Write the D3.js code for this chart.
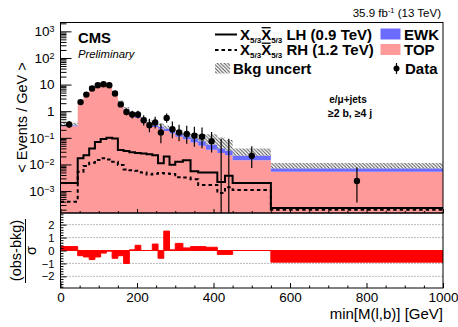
<!DOCTYPE html>
<html>
<head>
<meta charset="utf-8">
<script src="https://cdn.jsdelivr.net/npm/d3@7"></script>
<style>
body{margin:0;background:#fff;}
svg{display:block;font-family:"Liberation Sans",Arial,Helvetica,sans-serif;}
</style>
</head>
<body>
<div id="chart"></div>
<script>

/* ==========================
   Data (values per GeV)
========================== */

const binEdges = [0,45,60,75,90,105,120,135,150,165,180,195,210,225,240,255,270,285,300,320,340,360,380,410,430,450,550,1000];

const dataVals = [0.32,2.2,4.2,7.1,9.4,10.3,9.4,4.6,1.8,0.94,0.75,0.75,0.46,0.30,0.38,0.16,0.56,0.21,0.16,0.14,0.12,0.11,0.075,0,0,0.021,0.0024];

const topVals = [0.27,2.34,4.48,7.6,10.0,10.67,9.3,5.0,1.97,1.11,0.71,0.555,0.415,0.31,0.255,0.22,0.182,0.144,0.11,0.088,0.067,0.05,0.036,0.027,0.022,0.0145,0.0053];

const ewkVals = [0.02,0.06,0.12,0.2,0.3,0.33,0.3,0.2,0.13,0.09,0.07,0.065,0.055,0.05,0.045,0.04,0.038,0.036,0.03,0.027,0.028,0.025,0.019,0.013,0.011,0.0065,0.0018];

// relative upward size of the bkg uncertainty band
const bkgUnc = [0.28,0.12,0.12,0.12,0.12,0.12,0.12,0.14,0.2,0.2,0.22,0.22,0.25,0.25,0.25,0.3,0.3,0.3,0.4,0.4,0.6,0.8,1.5,1.6,1.5,0.9,0.6];

const sigLH = [0.002,0.017,0.022,0.04,0.07,0.09,0.1,0.095,0.035,0.032,0.029,0.027,0.026,0.024,0.022,0.011,0.02,0.0098,0.0125,0.0145,0.0056,0.005,0.005,0.0022,0.0038,0.002,0.00023];

const sigRH = [0.0004,0.0053,0.0087,0.0116,0.0146,0.017,0.0155,0.0126,0.0095,0.0065,0.006,0.0058,0.005,0.0042,0.0045,0.0048,0.0046,0.0044,0.0033,0.0032,0.0028,0.0017,0.0017,0.00085,0.0014,0.0011,0.0002];

const pullVals = [0.3,-0.4,-0.5,-0.7,-0.5,-0.2,-0.05,-0.6,-0.4,-1.0,0.05,0.4,0.0,0.0,0.5,-0.6,1.5,0.05,0.55,0.2,0.3,0.3,0.25,-0.3,-0.3,0.0,-0.9];

const xTickVals = [0,200,400,600,800,1000];
const xTickLabels = ["0","200","400","600","800","1000"];
const yTickVals = [1e-3,1e-2,1e-1,1,10,100,1000];
const yTickLabels = [["10","\u22123"],["10","\u22122"],["10","\u22121"],["1",""],["10",""],["10","2"],["10","3"]];
const pullTickVals = [-2,-1,0,1,2];
const pullTickLabels = ["\u22122","\u22121","0","1","2"];

/* ==========================
   Layout
========================== */

const width = 458, height = 327;
const X0 = 60.5, X1 = 443;
const UT = 22.5, UB = 213;
const LT = 213, LB = 288;

const pink = "#ff9a9a";
const blue = "#6b6bff";

const svg = d3.select("#chart")
.append("svg")
.attr("width", width)
.attr("height", height);

const defs = svg.append("defs");

const pat = defs.append("pattern")
.attr("id", "hatch")
.attr("patternUnits", "userSpaceOnUse")
.attr("width", 3.5)
.attr("height", 3.5);

pat.append("path")
.attr("d", "M-1,-1 L4.5,4.5 M-1,2.5 L1,4.5 M2.5,-1 L4.5,1")
.attr("stroke", "#444")
.attr("stroke-width", 0.9);

defs.append("clipPath").attr("id", "clipU")
.append("rect").attr("x", X0).attr("y", UT).attr("width", X1 - X0).attr("height", UB - UT);

defs.append("clipPath").attr("id", "clipL")
.append("rect").attr("x", X0).attr("y", LT).attr("width", X1 - X0).attr("height", LB - LT);

const x = d3.scaleLinear().domain([0, 1000]).range([X0, X1]);
const y = d3.scaleLog().domain([1.5e-4, 2150]).range([UB, UT]);
const yr = d3.scaleLinear().domain([-2.9, 2.9]).range([LB, LT]);

const yMin = y.domain()[0];
const yc = v => y(Math.max(v, yMin));

const bins = binEdges.slice(0, -1).map((lo, i) => ({
lo: lo,
hi: binEdges[i + 1],
w: binEdges[i + 1] - lo,
data: dataVals[i],
top: topVals[i],
ewk: ewkVals[i],
tot: topVals[i] + ewkVals[i],
unc: bkgUnc[i],
lh: sigLH[i],
rh: sigRH[i],
pull: pullVals[i]
}));

// closing point so step curves reach the last edge
const stepBins = bins.concat([Object.assign({}, bins[bins.length - 1], {lo: 1000})]);

function noText(g){
g.select(".domain").remove();
g.selectAll(".tick text").remove();
}

/* ==========================
   Upper panel
========================== */

const up = svg.append("g").attr("clip-path", "url(#clipU)");

up.append("path")
.datum(stepBins)
.attr("d", d3.area()
.x(d => x(d.lo))
.y0(UB)
.y1(d => yc(d.top))
.curve(d3.curveStepAfter))
.attr("fill", pink);

up.append("path")
.datum(stepBins)
.attr("d", d3.area()
.x(d => x(d.lo))
.y0(d => yc(d.top))
.y1(d => yc(d.tot))
.curve(d3.curveStepAfter))
.attr("fill", blue);

up.append("path")
.datum(stepBins)
.attr("d", d3.area()
.x(d => x(d.lo))
.y0(d => yc(d.tot))
.y1(d => yc(d.tot * (1 + d.unc)))
.curve(d3.curveStepAfter))
.attr("fill", "url(#hatch)");

// signal step lines
const lhLine = d3.line()
.x(d => x(d.lo))
.y(d => yc(d.lh))
.curve(d3.curveStepAfter);

const rhLine = d3.line()
.x(d => x(d.lo))
.y(d => yc(d.rh))
.curve(d3.curveStepAfter);

up.append("path")
.attr("d", lhLine(stepBins))
.attr("fill", "none")
.attr("stroke", "#000")
.attr("stroke-width", 2);

up.append("path")
.attr("d", rhLine(stepBins))
.attr("fill", "none")
.attr("stroke", "#000")
.attr("stroke-width", 2)
.attr("stroke-dasharray", "3.5,3");

// data with Poisson-like intervals
function errLo(n){ return n > 0.25 ? n - Math.sqrt(n - 0.25) : 0; }
function errHi(n){ return n + Math.sqrt(n + 0.75) + 1; }

const pts = up.append("g");

pts.selectAll("line")
.data(bins)
.enter()
.append("line")
.attr("x1", d => x((d.lo + d.hi) / 2))
.attr("x2", d => x((d.lo + d.hi) / 2))
.attr("y1", d => yc(errLo(d.data * d.w) / d.w))
.attr("y2", d => yc(errHi(d.data * d.w) / d.w))
.attr("stroke", "#000")
.attr("stroke-width", 1.2);

pts.selectAll("circle")
.data(bins.filter(d => d.data > 0))
.enter()
.append("circle")
.attr("cx", d => x((d.lo + d.hi) / 2))
.attr("cy", d => yc(d.data))
.attr("r", 3.2)
.attr("fill", "#000");

// axes upper
const yMinor = [];
for(let e = -4; e <= 3; e++){
for(let k = 2; k <= 9; k++){
const v = k * Math.pow(10, e);
if(v > yMin && v < 2150) yMinor.push(v);
}
}

svg.append("g")
.attr("transform", `translate(${X0},0)`)
.call(d3.axisLeft(y).tickValues(yMinor).tickSize(-6))
.call(noText);

const yAx = svg.append("g")
.attr("transform", `translate(${X0},0)`)
.call(d3.axisLeft(y).tickValues(yTickVals).tickSize(-11).tickPadding(6).tickFormat(""))
.call(g => g.select(".domain").remove());

yAx.selectAll(".tick text")
.attr("font-family", null)
.style("font-size", "13.5px")
.each(function(d){
const t = d3.select(this);
const lab = yTickLabels[yTickVals.indexOf(d)];
t.append("tspan").text(lab[0]);
if(lab[1] !== ""){
t.append("tspan")
.attr("dy", "-0.45em")
.style("font-size", "9px")
.text(lab[1]);
}
});

const xMinor = d3.range(0, 1001, 50).filter(v => v % 200 !== 0);

svg.append("g")
.attr("transform", `translate(0,${UB})`)
.call(d3.axisBottom(x).tickValues(xTickVals).tickSize(-4))
.call(noText);

svg.append("g")
.attr("transform", `translate(0,${UB})`)
.call(d3.axisBottom(x).tickValues(xMinor).tickSize(-2))
.call(noText);

svg.append("rect")
.attr("x", X0).attr("y", UT)
.attr("width", X1 - X0).attr("height", UB - UT)
.attr("fill", "none")
.attr("stroke", "#000")
.attr("stroke-width", 1);

/* ==========================
   Ratio panel
========================== */

const low = svg.append("g").attr("clip-path", "url(#clipL)");

low.selectAll("line.grid")
.data([-2, -1, 1, 2])
.enter()
.append("line")
.attr("class", "grid")
.attr("x1", X0).attr("x2", X1)
.attr("y1", d => yr(d)).attr("y2", d => yr(d))
.attr("stroke", "#555")
.attr("stroke-width", 0.8)
.attr("stroke-dasharray", "1,2");

low.append("path")
.datum(stepBins)
.attr("d", d3.area()
.x(d => x(d.lo))
.y0(yr(0))
.y1(d => yr(d.pull))
.curve(d3.curveStepAfter))
.attr("fill", "#ff0000")
.attr("stroke", "#ff0000")
.attr("stroke-width", 1);

const rAx = svg.append("g")
.attr("transform", `translate(${X0},0)`)
.call(d3.axisLeft(yr).tickValues(pullTickVals).tickSize(-6).tickPadding(6)
.tickFormat((d, i) => pullTickLabels[i]))
.call(g => g.select(".domain").remove());

rAx.selectAll(".tick text")
.attr("font-family", null)
.style("font-size", "11.2px");

svg.append("g")
.attr("transform", `translate(${X0},0)`)
.call(d3.axisLeft(yr)
.tickValues(d3.range(-2.8, 2.81, 0.2).filter(v => Math.abs(v - Math.round(v)) > 0.01))
.tickSize(-3))
.call(noText);

const xAx = svg.append("g")
.attr("transform", `translate(0,${LB})`)
.call(d3.axisBottom(x).tickValues(xTickVals).tickSize(-5).tickPadding(4.5)
.tickFormat((d, i) => xTickLabels[i]))
.call(g => g.select(".domain").remove());

xAx.selectAll(".tick text")
.attr("font-family", null)
.style("font-size", "13.5px");

svg.append("g")
.attr("transform", `translate(0,${LB})`)
.call(d3.axisBottom(x).tickValues(xMinor).tickSize(-2.5))
.call(noText);

svg.append("rect")
.attr("x", X0).attr("y", LT)
.attr("width", X1 - X0).attr("height", LB - LT)
.attr("fill", "none")
.attr("stroke", "#000")
.attr("stroke-width", 1);

/* ==========================
   Titles and labels
========================== */

svg.append("text")
.attr("x", X1).attr("y", 318.5)
.attr("text-anchor", "end")
.style("font-size", "15px")
.text("min[M(l,b)] [GeV]");

svg.append("text")
.attr("transform", "translate(26.5,117.5) rotate(-90)")
.attr("text-anchor", "middle")
.style("font-size", "14.5px")
.text("< Events / GeV >");

svg.append("text")
.attr("transform", "translate(20.5,250.5) rotate(-90)")
.attr("text-anchor", "middle")
.style("font-size", "14.5px")
.text("(obs-bkg)");

svg.append("line")
.attr("x1", 25.5).attr("x2", 25.5)
.attr("y1", 219).attr("y2", 283)
.attr("stroke", "#000")
.attr("stroke-width", 1);

svg.append("text")
.attr("transform", "translate(35.5,250.5) rotate(-90)")
.attr("text-anchor", "middle")
.style("font-size", "14.5px")
.text("\u03c3");

const lumi = svg.append("text")
.attr("x", 441).attr("y", 16.5)
.attr("text-anchor", "end")
.style("font-size", "11.5px");
lumi.append("tspan").text("35.9 fb");
lumi.append("tspan").attr("dy", -4).style("font-size", "7.5px").text("-1");
lumi.append("tspan").attr("dy", 4).text(" (13 TeV)");

svg.append("text")
.attr("x", 78).attr("y", 42.7)
.style("font-size", "14.8px")
.style("font-weight", "bold")
.text("CMS");

svg.append("text")
.attr("x", 78).attr("y", 57.5)
.style("font-size", "11.3px")
.style("font-style", "italic")
.text("Preliminary");

svg.append("text")
.attr("x", 348).attr("y", 103)
.attr("text-anchor", "middle")
.style("font-size", "10px")
.style("font-weight", "bold")
.text("e/\u03bc+jets");

svg.append("text")
.attr("x", 350).attr("y", 117)
.attr("text-anchor", "middle")
.style("font-size", "10.5px")
.style("font-weight", "bold")
.text("\u22652 b, \u22654 j");

/* ==========================
   Legend
========================== */

const leg = svg.append("g")
.style("font-size", "15px")
.style("font-weight", "bold");

function sigLabel(yBase, tail){
const t = leg.append("text").attr("x", 240).attr("y", yBase);
t.append("tspan").text("X");
t.append("tspan").attr("dy", 3).style("font-size", "8px").text("5/3");
t.append("tspan").attr("dy", -3).text("X");
t.append("tspan").attr("dy", 3).style("font-size", "8px").text("5/3");
t.append("tspan").attr("dy", -3).text(tail);
const box = t.node().getExtentOfChar(4);
leg.append("line")
.attr("x1", box.x + 0.5).attr("x2", box.x + box.width - 0.5)
.attr("y1", yBase - 11.8).attr("y2", yBase - 11.8)
.attr("stroke", "#000")
.attr("stroke-width", 1.3);
}

leg.append("line")
.attr("x1", 215).attr("x2", 237)
.attr("y1", 34.5).attr("y2", 34.5)
.attr("stroke", "#000").attr("stroke-width", 2);
sigLabel(39.5, " LH (0.9 TeV)");

leg.append("line")
.attr("x1", 215).attr("x2", 237)
.attr("y1", 50).attr("y2", 50)
.attr("stroke", "#000").attr("stroke-width", 2)
.attr("stroke-dasharray", "3.5,3");
sigLabel(55, " RH (1.2 TeV)");

leg.append("rect")
.attr("x", 215).attr("y", 63).attr("width", 15).attr("height", 10.5)
.attr("fill", "url(#hatch)");
leg.append("text").attr("x", 233).attr("y", 73.5).text("Bkg uncert");

leg.append("rect")
.attr("x", 380.5).attr("y", 28.5).attr("width", 20).attr("height", 11)
.attr("fill", blue);
leg.append("text").attr("x", 404).attr("y", 39.5).text("EWK");

leg.append("rect")
.attr("x", 380.5).attr("y", 44).attr("width", 20).attr("height", 11)
.attr("fill", pink);
leg.append("text").attr("x", 404).attr("y", 55).text("TOP");

leg.append("line")
.attr("x1", 396.5).attr("x2", 396.5)
.attr("y1", 63).attr("y2", 74)
.attr("stroke", "#000").attr("stroke-width", 1.2);
leg.append("circle")
.attr("cx", 396.5).attr("cy", 68.5).attr("r", 3)
.attr("fill", "#000");
leg.append("text").attr("x", 405).attr("y", 73.5).text("Data");

</script>
</body>
</html>
